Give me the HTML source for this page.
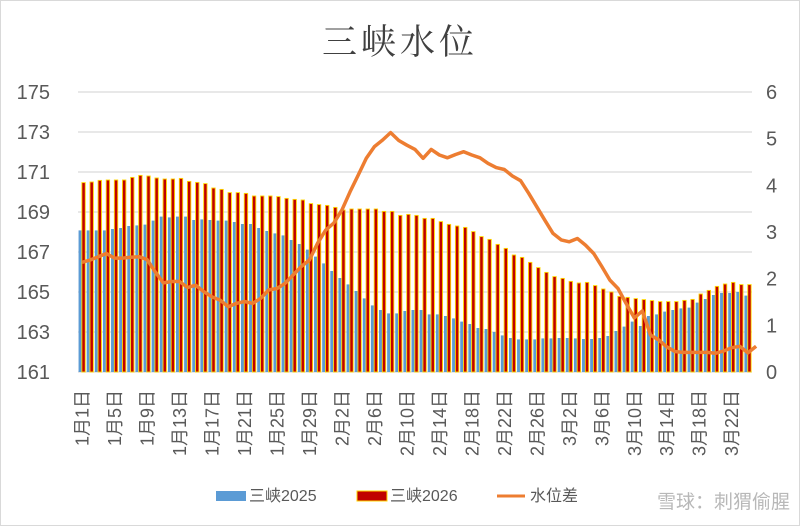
<!DOCTYPE html>
<html><head><meta charset="utf-8">
<style>
body{margin:0;background:#fff;}
svg{display:block;font-family:"Liberation Sans","Noto Sans CJK SC",sans-serif;}
</style></head>
<body>
<svg id="chart" width="800" height="526" viewBox="0 0 800 526">
<rect x="0.5" y="0.5" width="799" height="525" fill="#fff" stroke="#d9d9d9"/>
<text x="400" y="54" text-anchor="middle" font-size="35" letter-spacing="4" fill="#404040" font-family="'Noto Serif CJK SC',serif">三峡水位</text>
<g id="grid"></g>
<g id="yl"></g>
<g id="yr"></g>
<g id="bars"></g>
<g id="line"></g>
<g id="xl"></g>
<g>
<g><rect x="216" y="491" width="30" height="10" fill="#5b9bd5"/><text x="249" y="501" font-size="16" fill="#595959">三峡2025</text></g>
<g><rect x="357" y="491" width="30" height="10" fill="#c00000" stroke="#ffd700" stroke-width="1"/><text x="390" y="501" font-size="16" fill="#595959">三峡2026</text></g>
<g><line x1="497" y1="496" x2="525" y2="496" stroke="#ed7d31" stroke-width="3"/><text x="530" y="501" font-size="16" fill="#595959">水位差</text></g>
</g>
<text x="790" y="508" text-anchor="end" font-size="19" fill="#b8b8b8">雪球：刺猬偷腥</text>
</svg>
<script>
const labels2025 = [168.08,168.08,168.08,168.08,168.15,168.2,168.3,168.33,168.37,168.57,168.77,168.73,168.77,168.77,168.6,168.63,168.6,168.57,168.57,168.5,168.4,168.4,168.2,168.05,167.93,167.83,167.6,167.4,167.12,166.77,166.43,
166.05,165.7,165.38,165.05,164.68,164.33,164.1,163.93,163.93,164.05,164.1,164.1,163.88,163.88,163.8,163.68,163.52,163.4,163.2,163.15,163.0,162.83,162.7,162.63,162.63,162.63,
162.68,162.68,162.7,162.7,162.68,162.65,162.65,162.7,162.8,163.05,163.27,163.52,163.3,163.8,163.88,164.02,164.1,164.18,164.22,164.47,164.65,164.85,164.95,164.95,165.0,164.82];
const values2026 = [170.47,170.5,170.58,170.6,170.6,170.6,170.73,170.83,170.8,170.7,170.65,170.65,170.68,170.53,170.48,170.42,170.2,170.13,169.97,169.97,169.93,169.8,169.8,169.8,169.77,169.68,169.63,169.6,169.42,169.37,169.33,
169.23,169.1,169.15,169.15,169.15,169.15,169.03,169.03,168.83,168.88,168.83,168.68,168.68,168.52,168.38,168.3,168.23,168.02,167.77,167.63,167.38,167.18,166.85,166.73,166.48,166.22,
165.98,165.77,165.68,165.53,165.45,165.48,165.32,165.15,165.0,164.78,164.73,164.67,164.62,164.57,164.52,164.52,164.52,164.58,164.63,164.9,165.08,165.28,165.4,165.48,165.37,165.37];
const diffValues = [2.35,2.4,2.47,2.54,2.44,2.44,2.46,2.47,2.41,2.15,1.91,1.94,1.94,1.81,1.86,1.72,1.61,1.54,1.4,1.47,1.51,1.47,1.58,1.76,1.79,1.9,2.08,2.26,2.4,2.76,3.04,
3.19,3.47,3.86,4.22,4.58,4.83,4.97,5.13,4.96,4.86,4.77,4.58,4.77,4.65,4.59,4.66,4.72,4.65,4.59,4.47,4.38,4.34,4.2,4.1,3.83,3.54,
3.25,2.97,2.83,2.79,2.86,2.72,2.54,2.26,1.97,1.79,1.47,1.16,1.31,0.79,0.69,0.54,0.44,0.42,0.42,0.42,0.42,0.4,0.45,0.52,0.55,0.41,0.55];
const leftTicks = [161,163,165,167,169,171,173,175];
const rightTicks = [0,1,2,3,4,5,6];
const monthDays = [31,28,31];

const NS="http://www.w3.org/2000/svg";
const X0=78, X1=752, Y0=372, Y1=92;
const n=values2026.length;
const step=(X1-X0)/n;
const xc=i=>X0+step*(i+0.5);
const yL=v=>Y0-(v-161)/(175-161)*(Y0-Y1);
const yR=v=>Y0-v/6*(Y0-Y1);
function mk(tag,attrs,parent){const e=document.createElementNS(NS,tag);for(const k in attrs)e.setAttribute(k,attrs[k]);parent.appendChild(e);return e;}
const grid=document.getElementById('grid'),yl=document.getElementById('yl'),yr=document.getElementById('yr'),bars=document.getElementById('bars'),line=document.getElementById('line'),xl=document.getElementById('xl');
leftTicks.forEach(t=>{
  const g=mk('line',{x1:X0,x2:X1,y1:yL(t),y2:yL(t),stroke:'#d9d9d9','stroke-width':1.3},grid);
  
  
  const tx=mk('text',{x:50,y:yL(t)+7,'text-anchor':'end','font-size':20,fill:'#595959'},yl);
  tx.textContent=t;
  
  
});
rightTicks.forEach(t=>{
  const tx=mk('text',{x:766,y:yR(t)+7,'font-size':20,fill:'#595959'},yr);
  tx.textContent=t;
  
  
});
for(let i=0;i<n;i++){
  const c=xc(i);
  const b=mk('rect',{x:c-3.5,y:yL(labels2025[i]),width:3,height:Y0-yL(labels2025[i]),fill:'#5b9bd5'},bars);
  
  
  const r=mk('rect',{x:c-0.2,y:yL(values2026[i]),width:3.4,height:Y0-yL(values2026[i]),fill:'#c00000',stroke:'#ffd700','stroke-width':0.9},bars);
  
  
}
const pts=diffValues.map((v,i)=>xc(i).toFixed(1)+','+yR(v).toFixed(1)).join(' ');
const pl=mk('polyline',{points:pts,fill:'none',stroke:'#ed7d31','stroke-width':3.5,'stroke-linejoin':'round'},line);


let idx=0;
monthDays.forEach((md,m)=>{
  for(let d=1;d<=md;d++){
    if(idx<n && idx%4===0){
      const x=xc(idx)+6.5;
      const t=mk('text',{x:x,y:390,'text-anchor':'end','font-size':18,fill:'#595959',transform:'rotate(-90 '+x+' 390)'},xl);
      t.textContent=(m+1)+'月'+d+'日';
      
      
    }
    idx++;
  }
});
</script>
</body></html>
